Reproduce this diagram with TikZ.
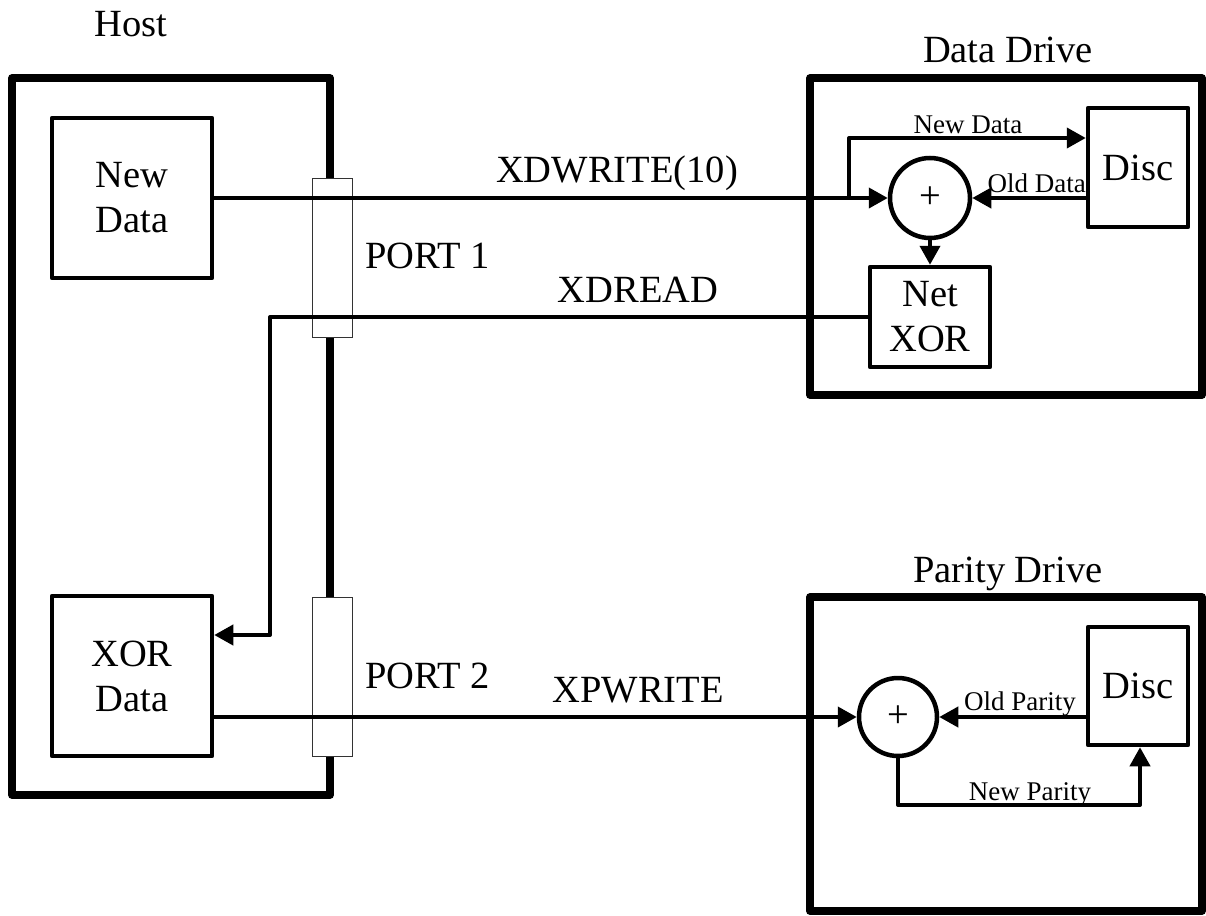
\documentclass[tikz,border=0pt]{standalone}
\usepackage{fontspec}
\setmainfont{Liberation Serif}
\usetikzlibrary{arrows.meta}
\begin{document}
\begin{tikzpicture}[x=1pt,y=-1pt]
\tikzset{
 bigtxt/.style={font=\fontsize{38.5}{45}\selectfont},
 smalltxt/.style={font=\fontsize{27}{32}\selectfont},
 outerbox/.style={draw, line width=7.5pt, line join=round, inner sep=0pt},
 innerbox/.style={draw, line width=4.5pt, line join=round, inner sep=0pt, align=center, bigtxt},
 portbox/.style={draw=black!80, line width=1pt, fill=white, inner sep=0pt, minimum width=40pt, minimum height=159pt},
 sumnode/.style={draw, circle, line width=4.5pt, inner sep=0pt, minimum size=80pt, bigtxt},
 conn/.style={line width=4pt, line join=round},
 arr/.style={conn, -{Triangle[length=19pt,width=20pt]}},
 lbl/.style={inner sep=0pt, anchor=base},
}
\useasboundingbox (0,0) rectangle (1206,915);

% outer boxes
\node[outerbox, minimum width=318pt, minimum height=717pt] (host) at (171,436.5) {};
\node[outerbox, minimum width=392pt, minimum height=317pt] (ddrive) at (1006,236.5) {};
\node[outerbox, minimum width=392pt, minimum height=314pt] (pdrive) at (1006,754) {};

% titles
\node[lbl, bigtxt] (hostlbl) at (131,37) {Host};
\node[lbl, bigtxt] (ddlbl) at (1008,63) {Data Drive};
\node[lbl, bigtxt] (pdlbl) at (1008,582) {Parity Drive};

% ports
\node[portbox] (port1) at (332,257.5) {};
\node[portbox] (port2) at (332,676.5) {};
\node[lbl, bigtxt, anchor=base west] (p1lbl) at (365,268) {PORT 1};
\node[lbl, bigtxt, anchor=base west] (p2lbl) at (365,688) {PORT 2};

% host inner boxes
\node[innerbox, minimum width=160pt, minimum height=160pt] (newdata) at (132,198) {New\\Data};
\node[innerbox, minimum width=160pt, minimum height=160pt] (xordata) at (132,676) {XOR\\Data};

% data drive internals
\node[sumnode] (dc) at (930,198) {+};
\node[innerbox, minimum width=100pt, minimum height=119pt] (ddisc) at (1138,167.5) {Disc};
\node[innerbox, minimum width=120pt, minimum height=100pt] (netxor) at (930,317) {Net\\XOR};

% parity drive internals
\node[sumnode, minimum size=78pt] (pc) at (898,717) {+};
\node[innerbox, minimum width=100pt, minimum height=118pt] (pdisc) at (1138,686) {Disc};

% connectors
\coordinate (ndsplit) at (849,198);
\coordinate (ndturn) at (849,138);
\coordinate (rd1) at (270,317);
\coordinate (rd2) at (270,635);
\coordinate (npturn) at (898,805);

\draw[arr] (newdata.east) -- (dc.west);
\draw[arr] (ndsplit) -- (ndturn) -- (ndturn -| ddisc.west);
\draw[arr] (ddisc.west |- dc.center) -- (dc.east);
\draw[arr] (dc.south) -- (netxor.north);
\draw[arr] (netxor.west) -- (rd1) -- (rd2) -- (rd2 -| xordata.east);
\draw[arr] (xordata.east |- pc.center) -- (pc.west);
\draw[arr] (pdisc.west |- pc.center) -- (pc.east);
\draw[arr] (pc.south) -- (npturn) -| ([xshift=2pt]pdisc.south);

% connector labels
\node[lbl, bigtxt] (xdw) at (617,182) {XDWRITE(10)};
\node[lbl, bigtxt] (xdr) at (638,302) {XDREAD};
\node[lbl, bigtxt] (xpw) at (638,702) {XPWRITE};
\node[lbl, smalltxt] (ndl) at (968,133) {New Data};
\node[lbl, smalltxt, anchor=base east] (odl) at (1086,192) {Old Data};
\node[lbl, smalltxt, anchor=base east] (opl) at (1076,710) {Old Parity};
\node[lbl, smalltxt] (npl) at (1030,800) {New Parity};
\end{tikzpicture}
\end{document}
